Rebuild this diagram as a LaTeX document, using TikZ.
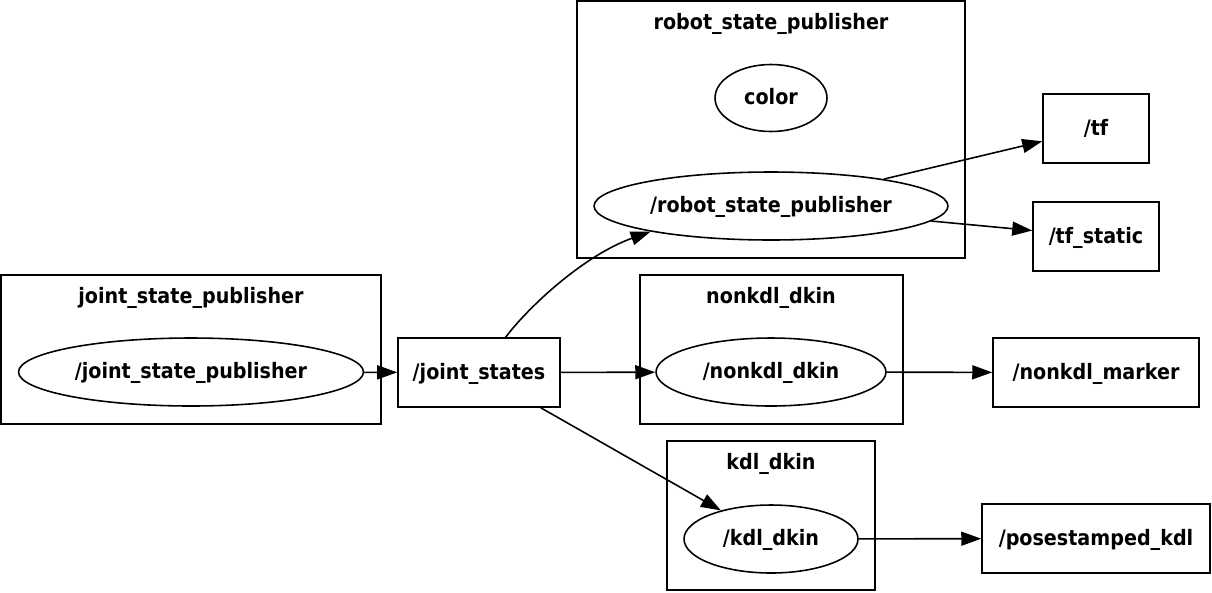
\documentclass[tikz,border=0pt]{standalone}
\usepackage{fontspec}
\setmainfont{DejaVu Sans}[FakeStretch=0.9]
\usetikzlibrary{shapes.geometric,arrows.meta}

\begin{document}
\begin{tikzpicture}[x=0.02cm, y=-0.02cm, line width=0.9pt,
		every node/.style={font=\fontsize{12.1}{14}\selectfont\bfseries, text height=0.8em, text depth=0.06em},
		cluster/.style={draw, inner sep=0pt},
		topic/.style={draw, inner sep=0pt, minimum height=1.38cm},
		nodeell/.style={draw, ellipse, inner sep=0pt, minimum height=1.36cm},
		edge/.style={-{Triangle[length=0.4cm, width=0.28cm]}}]
		\useasboundingbox (0,0) rectangle (1212,592);

		% Klastry
		\node[cluster, minimum width=7.6cm, minimum height=2.98cm] (cjsp) at (191,349.5) {};
		\node (cjsplabel) at (191,297) {joint\_state\_publisher};
		\node[cluster, minimum width=7.76cm, minimum height=5.14cm] (crsp) at (771,129.5) {};
		\node (crsplabel) at (771,23) {robot\_state\_publisher};
		\node[cluster, minimum width=5.26cm, minimum height=2.98cm] (cnonkdl) at (771.5,349.5) {};
		\node (cnonkdllabel) at (771,297) {nonkdl\_dkin};
		\node[cluster, minimum width=4.16cm, minimum height=2.98cm] (ckdl) at (771,515.5) {};
		\node (ckdllabel) at (771,463) {kdl\_dkin};

		% Wezly
		\node[nodeell, minimum width=6.9cm] (jsp) at (191,372) {/joint\_state\_publisher};
		\node[nodeell, minimum width=2.24cm, minimum height=1.34cm] (color) at (771,98) {color};
		\node[nodeell, minimum width=7.08cm] (rsp) at (771,206) {/robot\_state\_publisher};
		\node[nodeell, minimum width=4.6cm] (nonkdl) at (771,372) {/nonkdl\_dkin};
		\node[nodeell, minimum width=3.48cm] (kdl) at (771,539) {/kdl\_dkin};

		% Tematy
		\node[topic, minimum width=3.24cm] (js) at (479,372.5) {/joint\_states};
		\node[topic, minimum width=2.12cm] (tf) at (1096,128.5) {/tf};
		\node[topic, minimum width=2.52cm] (tfs) at (1096,236.5) {/tf\_static};
		\node[topic, minimum width=4.12cm] (marker) at (1096,372.5) {/nonkdl\_marker};
		\node[topic, minimum width=4.56cm] (pose) at (1096,538.5) {/posestamped\_kdl};

		% Strzalki
		\draw[edge] (jsp) -- (js);
		\draw[edge] (js) .. controls (530,305) and (585,255) .. (rsp.192);
		\draw[edge] (js) -- (nonkdl);
		\draw[edge] (js) -- (kdl);
		\draw[edge] (rsp) -- (tf);
		\draw[edge] (rsp) -- (tfs);
		\draw[edge] (nonkdl) -- (marker);
		\draw[edge] (kdl) -- (pose);

	\end{tikzpicture}
\end{document}
